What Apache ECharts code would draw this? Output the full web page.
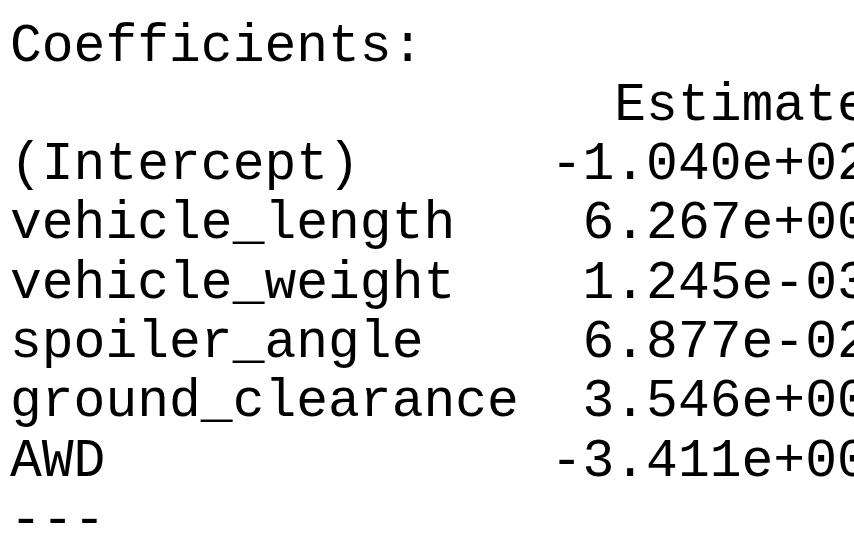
<!DOCTYPE html>
<html>
<head>
<meta charset="utf-8">
<script src="https://cdn.jsdelivr.net/npm/echarts@6/dist/echarts.min.js"></script>
<style>
  html, body { margin: 0; padding: 0; background: #fff; }
  #main { width: 854px; height: 547px; }
</style>
</head>
<body>
<div id="main"></div>
<script>
// coefficient table, as printed by R
var termNames = ["(Intercept)", "vehicle_length", "vehicle_weight", "spoiler_angle", "ground_clearance", "AWD"];
var estimates = ["-1.040e+02", "6.267e+00", "1.245e-03", "6.877e-02", "3.546e+00", "-3.411e+00"];
var title = "Coefficients:";
var colHeader = "Estimate";

function padRight(s, n) { while (s.length < n) s += " "; return s; }
function padLeft(s, n) { while (s.length < n) s = " " + s; return s; }

var nameWidth = 0;
termNames.forEach(function (n) { if (n.length > nameWidth) nameWidth = n.length; });
var estWidth = 10;

var lines = [title, padLeft(colHeader, nameWidth + 1 + estWidth)];
termNames.forEach(function (n, i) {
    lines.push(padRight(n, nameWidth) + " " + padLeft(estimates[i], estWidth));
});
lines.push("---");

var chart = echarts.init(document.getElementById("main"));
var elements = lines.map(function (line, i) {
    return {
        type: "text",
        left: 10,
        top: 20 + i * 59.3,
        style: {
            text: line.replace(/ /g, "\u00a0"),
            fill: "#000",
            font: "53px 'Liberation Mono', 'DejaVu Sans Mono', monospace"
        }
    };
});
chart.setOption({ graphic: { elements: elements } });
</script>
</body>
</html>
